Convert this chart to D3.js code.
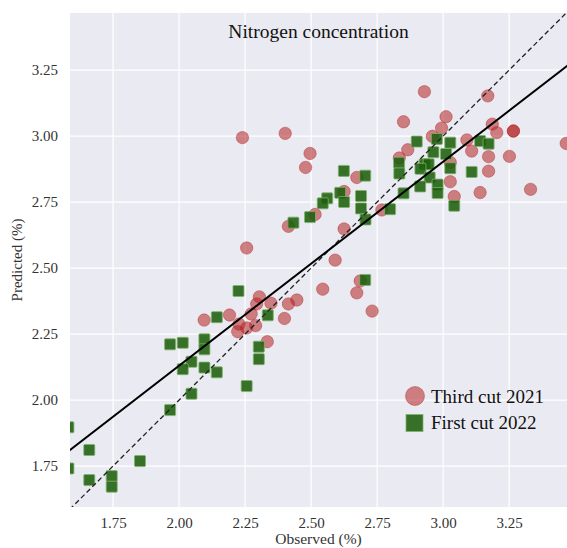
<!DOCTYPE html>
<html>
<head>
<meta charset="utf-8">
<script src="https://cdn.jsdelivr.net/npm/d3@7"></script>
<style>
  html, body { margin: 0; padding: 0; background: #fff; }
  svg { display: block; font-family: "Liberation Serif", "Times New Roman", serif; }
</style>
</head>
<body>
<svg id="scatter"></svg>
<script>
// Third cut 2021 (circles): observed, predicted
let cut2021Obs = [2.929, 3.169, 2.850, 3.011, 2.994, 3.186, 3.203, 3.266, 3.266, 2.959,
    3.090, 3.466, 2.866, 3.108, 3.172, 3.251, 2.834, 3.027, 3.172, 3.027,
    3.140, 3.331, 3.042, 2.768, 2.496, 2.479, 2.673, 2.625, 2.515, 2.414,
    2.625, 2.256, 2.240, 2.402, 2.591, 2.544, 2.673, 2.686, 2.731, 2.446,
    2.414, 2.399, 2.304, 2.348, 2.294, 2.273, 2.191, 2.095, 2.227, 2.256,
    2.290, 2.222, 2.334];
let cut2021Pred = [3.168, 3.152, 3.054, 3.073, 3.030, 3.045, 3.013, 3.019, 3.019, 2.999,
    2.985, 2.972, 2.948, 2.943, 2.922, 2.923, 2.917, 2.900, 2.867, 2.827,
    2.786, 2.798, 2.771, 2.720, 2.934, 2.881, 2.843, 2.790, 2.703, 2.658,
    2.648, 2.576, 2.994, 3.010, 2.530, 2.420, 2.406, 2.451, 2.337, 2.379,
    2.364, 2.309, 2.391, 2.367, 2.364, 2.326, 2.322, 2.303, 2.288, 2.273,
    2.282, 2.259, 2.221];

// First cut 2022 (squares): observed, predicted
let cut2022Obs = [2.900, 2.976, 3.027, 3.140, 3.172, 2.963, 3.011, 2.833, 2.930, 2.945,
    2.914, 3.027, 2.834, 2.949, 3.108, 2.913, 2.979, 2.979, 2.850, 3.042,
    2.799, 2.705, 2.624, 2.610, 2.561, 2.544, 2.625, 2.689, 2.689, 2.706,
    2.496, 2.433, 2.705, 2.225, 2.143, 2.336, 2.096, 2.096, 1.966, 2.014,
    2.047, 2.014, 2.096, 2.143, 2.302, 2.302, 2.256, 2.047, 1.966, 1.581,
    1.660, 1.852, 1.581, 1.660, 1.745, 1.745];
let cut2022Pred = [2.979, 2.989, 2.975, 2.981, 2.971, 2.939, 2.932, 2.899, 2.893, 2.893,
    2.876, 2.878, 2.858, 2.843, 2.864, 2.809, 2.816, 2.784, 2.783, 2.736,
    2.723, 2.850, 2.868, 2.785, 2.764, 2.745, 2.750, 2.773, 2.726, 2.684,
    2.693, 2.672, 2.455, 2.413, 2.314, 2.321, 2.230, 2.192, 2.211, 2.217,
    2.145, 2.117, 2.123, 2.105, 2.202, 2.155, 2.053, 2.024, 1.962, 1.897,
    1.811, 1.769, 1.741, 1.697, 1.712, 1.672];

let tickValues = [1.75, 2.00, 2.25, 2.50, 2.75, 3.00, 3.25];
let seriesNames = ["Third cut 2021", "First cut 2022"];

// fitted regression line: predicted = slope * observed + intercept
let regSlope = 0.773;
let regIntercept = 0.584;

function makeScatter() {
    let w = 567;
    let h = 548;
    let left = 70, right = 567, top = 13, bottom = 507;

    let svg = d3.select('#scatter')
        .attr('width', w)
        .attr('height', h);

    let xScale = d3.scaleLinear()
        .domain([1.587, 3.469])
        .range([left, right]);

    let yScale = d3.scaleLinear()
        .domain([1.595, 3.466])
        .range([bottom, top]);

    // background
    svg.append('rect')
        .attr('x', left).attr('y', top)
        .attr('width', right - left).attr('height', bottom - top)
        .attr('fill', '#eaeaf2');

    svg.append('clipPath').attr('id', 'plotClip')
        .append('rect')
        .attr('x', left).attr('y', top)
        .attr('width', right - left).attr('height', bottom - top);

    // grid lines
    svg.append('g').selectAll('line')
        .data(tickValues)
        .join('line')
        .attr('x1', d => xScale(d)).attr('x2', d => xScale(d))
        .attr('y1', top).attr('y2', bottom)
        .attr('stroke', '#fff').attr('stroke-width', 1.2);
    svg.append('g').selectAll('line')
        .data(tickValues)
        .join('line')
        .attr('y1', d => yScale(d)).attr('y2', d => yScale(d))
        .attr('x1', left).attr('x2', right)
        .attr('stroke', '#fff').attr('stroke-width', 1.2);

    // axes (labels only)
    let xAxis = d3.axisBottom(xScale)
        .tickValues(tickValues)
        .tickFormat(d3.format('.2f'))
        .tickSize(0)
        .tickPadding(10);
    let xAxisGroup = svg.append('g')
        .attr('transform', `translate(0, ${bottom})`)
        .call(xAxis);

    let yAxis = d3.axisLeft(yScale)
        .tickValues(tickValues)
        .tickFormat(d3.format('.2f'))
        .tickSize(0)
        .tickPadding(12);
    let yAxisGroup = svg.append('g')
        .attr('transform', `translate(${left}, 0)`)
        .call(yAxis);

    [xAxisGroup, yAxisGroup].forEach(g => {
        g.select('.domain').remove();
        g.selectAll('text')
            .attr('font-family', '"Liberation Serif", serif')
            .attr('font-size', 15)
            .attr('fill', '#333');
    });

    let plot = svg.append('g').attr('clip-path', 'url(#plotClip)');

    let cut2021 = cut2021Obs.map((d, i) => ({obs: d, pred: cut2021Pred[i]}));
    let cut2022 = cut2022Obs.map((d, i) => ({obs: d, pred: cut2022Pred[i]}));

    plot.append('g').selectAll('circle')
        .data(cut2021)
        .join('circle')
        .attr('cx', d => xScale(d.obs))
        .attr('cy', d => yScale(d.pred))
        .attr('r', 6.2)
        .attr('fill', '#b22222')
        .attr('fill-opacity', 0.55)
        .attr('stroke', '#b22222')
        .attr('stroke-opacity', 0.4)
        .attr('stroke-width', 1);

    let sq = 11;
    plot.append('g').selectAll('rect')
        .data(cut2022)
        .join('rect')
        .attr('x', d => xScale(d.obs) - sq / 2)
        .attr('y', d => yScale(d.pred) - sq / 2)
        .attr('width', sq)
        .attr('height', sq)
        .attr('rx', 1)
        .attr('fill', '#1d5e0c')
        .attr('fill-opacity', 0.88)
        .attr('stroke', '#7fb36a')
        .attr('stroke-opacity', 0.8)
        .attr('stroke-width', 1);

    // 1:1 line
    let line = d3.line()
        .x(d => xScale(d[0]))
        .y(d => yScale(d[1]));
    let lo = 1.5, hi = 3.6;
    plot.append('path')
        .datum([[lo, lo], [hi, hi]])
        .attr('d', line)
        .attr('fill', 'none')
        .attr('stroke', '#222')
        .attr('stroke-width', 1.3)
        .attr('stroke-dasharray', '5,3');

    // regression line
    plot.append('path')
        .datum([[lo, regSlope * lo + regIntercept], [hi, regSlope * hi + regIntercept]])
        .attr('d', line)
        .attr('fill', 'none')
        .attr('stroke', '#000')
        .attr('stroke-width', 2);

    // title
    svg.append('text')
        .attr('x', (left + right) / 2)
        .attr('y', 38)
        .attr('text-anchor', 'middle')
        .attr('font-size', 19.5)
        .attr('fill', '#111')
        .text('Nitrogen concentration');

    // axis titles
    svg.append('text')
        .attr('x', (left + right) / 2)
        .attr('y', 544)
        .attr('text-anchor', 'middle')
        .attr('font-size', 15.5)
        .attr('fill', '#333')
        .text('Observed (%)');

    svg.append('text')
        .attr('transform', `translate(22, ${(top + bottom) / 2}) rotate(-90)`)
        .attr('text-anchor', 'middle')
        .attr('font-size', 15)
        .attr('fill', '#333')
        .text('Predicted (%)');

    // legend
    let legend = svg.append('g');
    legend.append('circle')
        .attr('cx', 415).attr('cy', 396).attr('r', 9.5)
        .attr('fill', '#b22222').attr('fill-opacity', 0.55)
        .attr('stroke', '#b22222').attr('stroke-opacity', 0.4);
    legend.append('rect')
        .attr('x', 406).attr('y', 414.5).attr('width', 17).attr('height', 17)
        .attr('fill', '#1d5e0c').attr('fill-opacity', 0.88)
        .attr('stroke', '#7fb36a').attr('stroke-opacity', 0.8);
    legend.selectAll('text')
        .data(seriesNames)
        .join('text')
        .attr('x', 431)
        .attr('y', (d, i) => 402.5 + i * 26.5)
        .attr('font-size', 19)
        .attr('fill', '#111')
        .text(d => d);
}

window.onload = function() {
    makeScatter();
}
</script>
</body>
</html>
